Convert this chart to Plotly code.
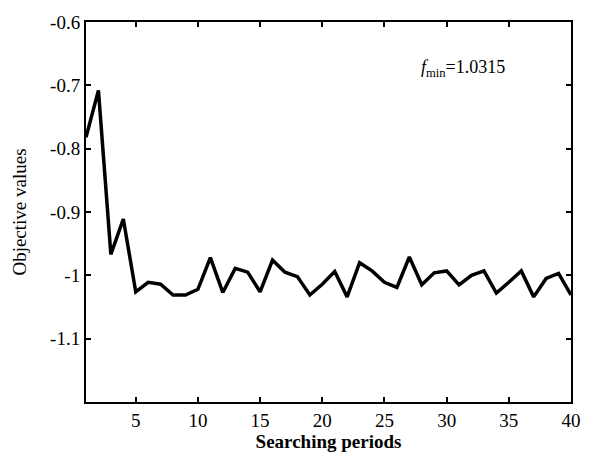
import plotly.graph_objects as go

periods = list(range(1, 41))
objective = [-0.782, -0.708, -0.967, -0.911, -1.026, -1.011, -1.014, -1.031, -1.031, -1.022,
             -0.972, -1.027, -0.989, -0.995, -1.026, -0.976, -0.995, -1.002, -1.031, -1.014,
             -0.994, -1.034, -0.980, -0.993, -1.011, -1.019, -0.971, -1.015, -0.996, -0.993,
             -1.015, -1.000, -0.993, -1.028, -1.011, -0.993, -1.034, -1.005, -0.997, -1.031]

x_ticks = [5, 10, 15, 20, 25, 30, 35, 40]
y_ticks = [-0.6, -0.7, -0.8, -0.9, -1.0, -1.1]
y_ticktext = ["-0.6", "-0.7", "-0.8", "-0.9", "-1", "-1.1"]

font_family = "Liberation Serif"

fig = go.Figure()
fig.add_trace(go.Scatter(x=periods, y=objective, mode="lines",
                         line=dict(color="black", width=3.5), showlegend=False))

fig.add_annotation(x=27.8, y=-0.674, xref="x", yref="y", xanchor="left", yanchor="middle",
                   text="<i>f</i><sub>min</sub>=1.0315", showarrow=False,
                   font=dict(family=font_family, size=18, color="black"))

axis_common = dict(showgrid=False, zeroline=False, showline=True, linecolor="black",
                   linewidth=2, mirror="ticks", ticks="inside", ticklen=5, tickwidth=1.5,
                   tickcolor="black", tickfont=dict(family=font_family, size=19, color="black"))

fig.update_xaxes(range=[1, 40], tickvals=x_ticks, ticktext=[str(v) for v in x_ticks],
                 title=dict(text="<b>Searching periods</b>", standoff=4,
                            font=dict(family=font_family, size=19, color="black")),
                 **axis_common)
fig.update_yaxes(range=[-1.2, -0.6], tickvals=y_ticks, ticktext=y_ticktext,
                 title=dict(text="Objective values", standoff=18,
                            font=dict(family=font_family, size=19, color="black")),
                 **axis_common)

fig.update_layout(width=593, height=461, margin=dict(l=86, r=14, t=14, b=59),
                  plot_bgcolor="white", paper_bgcolor="white")

fig.write_html("out.html")
